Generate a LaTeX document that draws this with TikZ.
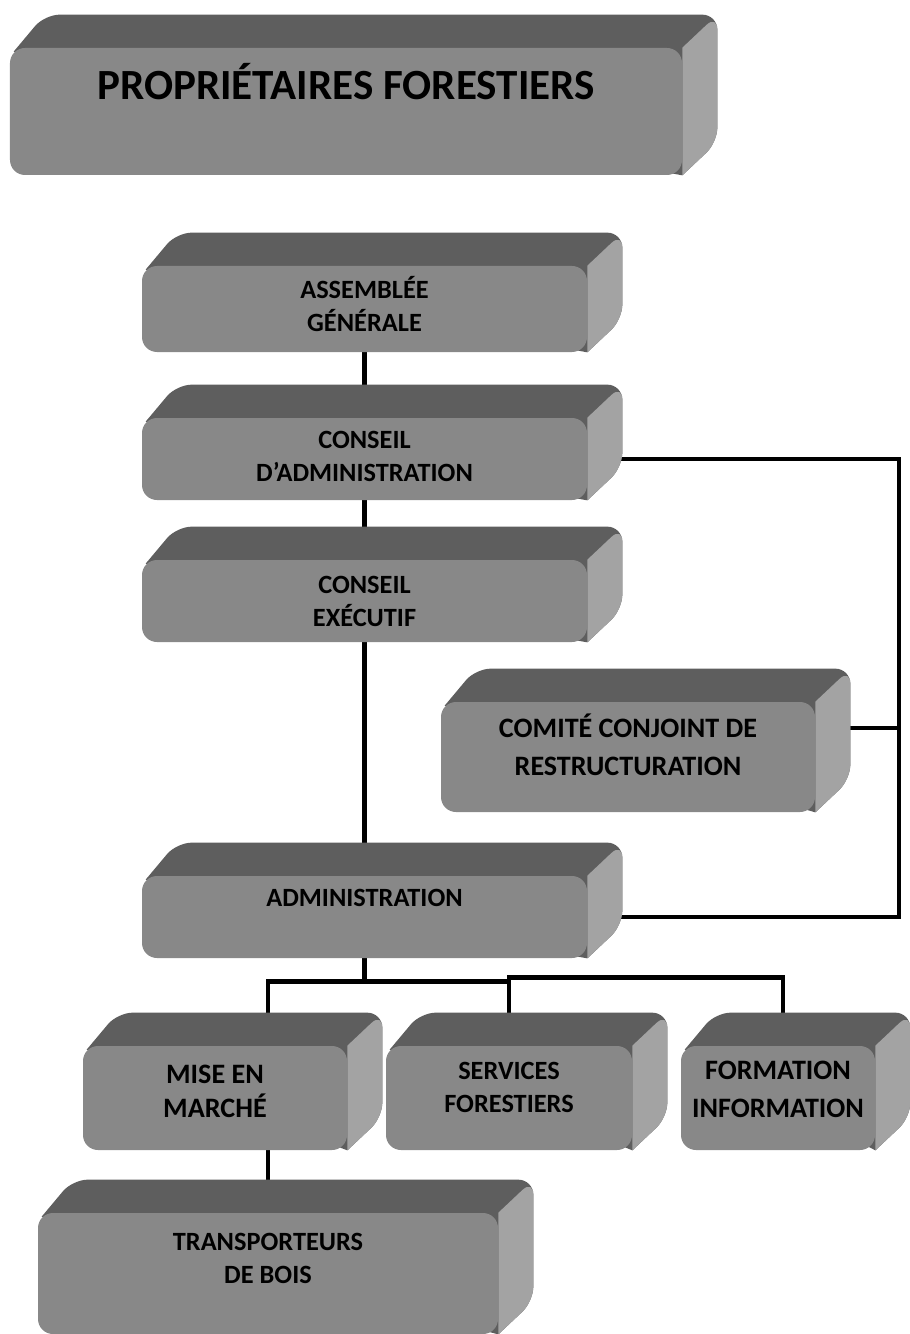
\documentclass[tikz,border=0pt]{standalone}
\usepackage{fontspec}
\setmainfont{Carlito}
\usetikzlibrary{calc}
\pgfdeclarelayer{links}
\pgfdeclarelayer{faces}
\pgfsetlayers{links,faces,main}
\definecolor{frontgray}{HTML}{888888}
\definecolor{topgray}{HTML}{5E5E5E}
\definecolor{sidegray}{HTML}{A3A3A3}
\begin{document}
\begin{tikzpicture}[main/.style={fill=frontgray, rounded corners=0.3cm, align=center, inner sep=0pt, font=\bfseries\fontsize{15}{18.8}\selectfont},
	lift/.style={text depth=#1},
	link/.style={line width=2.6pt, line cap=rect}]
		\useasboundingbox (0,0) rectangle (18.18,-26.68);

		\node[main, minimum width=13.44cm, minimum height=2.54cm, lift=1.22cm, font=\bfseries\fontsize{24.5}{29}\selectfont] at (6.92,-2.23) (prop) {PROPRIÉTAIRES FORESTIERS};
		\node[main, minimum width=8.9cm, minimum height=1.72cm, lift=0.22cm] at (7.29,-6.18) (ag) {ASSEMBLÉE\\GÉNÉRALE};
		\node[main, minimum width=8.9cm, minimum height=1.64cm, lift=0.12cm] at (7.29,-9.18) (ca) {CONSEIL\\D’ADMINISTRATION};
		\node[main, minimum width=8.9cm, minimum height=1.64cm] at (7.29,-12.02) (ce) {CONSEIL\\EXÉCUTIF};
		\node[main, minimum width=7.48cm, minimum height=2.2cm, lift=0.48cm, font=\bfseries\fontsize{16}{21.6}\selectfont] at (12.56,-15.14) (comite) {COMITÉ CONJOINT DE\\RESTRUCTURATION};
		\node[main, minimum width=8.9cm, minimum height=1.64cm, lift=0.76cm] at (7.29,-18.34) (adm) {ADMINISTRATION};
		\node[main, minimum width=5.28cm, minimum height=2.08cm, lift=0.28cm, font=\bfseries\fontsize{16}{19.4}\selectfont] at (4.3,-21.96) (mise) {MISE EN\\MARCHÉ};
		\node[main, minimum width=4.92cm, minimum height=2.08cm, lift=0.44cm] at (10.18,-21.96) (serv) {SERVICES\\FORESTIERS};
		\node[main, minimum width=3.88cm, minimum height=2.08cm, lift=0.36cm, font=\bfseries\fontsize{16}{21.6}\selectfont] at (15.56,-21.96) (form) {FORMATION\\INFORMATION};
		\node[main, minimum width=9.2cm, minimum height=2.42cm, lift=0.6cm] at (5.36,-25.47) (transp) {TRANSPORTEURS\\DE BOIS};

		\begin{pgfonlayer}{faces}
		\foreach \n in {prop,ag,ca,ce,comite,adm,mise,serv,form,transp}{
			\fill[topgray] ([shift={(0.08,-0.08)}]\n.north west) [rounded corners=0.3cm] -- ([shift={(0.7,0.66)}]\n.north west) -- ([shift={(0.7,0.66)}]\n.north east) -- ([shift={(0.7,0.66)}]\n.south east) [sharp corners] -- (\n.south east) -- cycle;
			\fill[sidegray] (\n.north east) [rounded corners=0.3cm] -- ([shift={(0.7,0.66)}]\n.north east) -- ([shift={(0.7,0.66)}]\n.south east) [sharp corners] -- (\n.south east) -- cycle;
		}
		\end{pgfonlayer}

		\begin{pgfonlayer}{links}
		\coordinate (bus) at (17.98,-9.18);
		\coordinate (split) at ($(adm.south)+(0,-0.46)$);
		\draw[link] (ag.south) -- (ca.north);
		\draw[link] (ca.south) -- (ce.north);
		\draw[link] (ce.south) -- (adm.north);
		\draw[link] (ca.east) -- (bus) -- (adm.east -| bus) -- (adm.east);
		\draw[link] ([yshift=0.58cm]comite.east) -- ([yshift=0.58cm]comite.east -| bus);
		\draw[link] (adm.south) -- (split) -| (mise.north -| transp.north);
		\draw[link] (split) -| (serv.north);
		\draw[link] ([yshift=0.08cm]split -| serv.north) -| ([xshift=0.1cm]form.north);
		\draw[link] (mise.south -| transp.north) -- (transp.north);
		\end{pgfonlayer}
	\end{tikzpicture}
\end{document}
